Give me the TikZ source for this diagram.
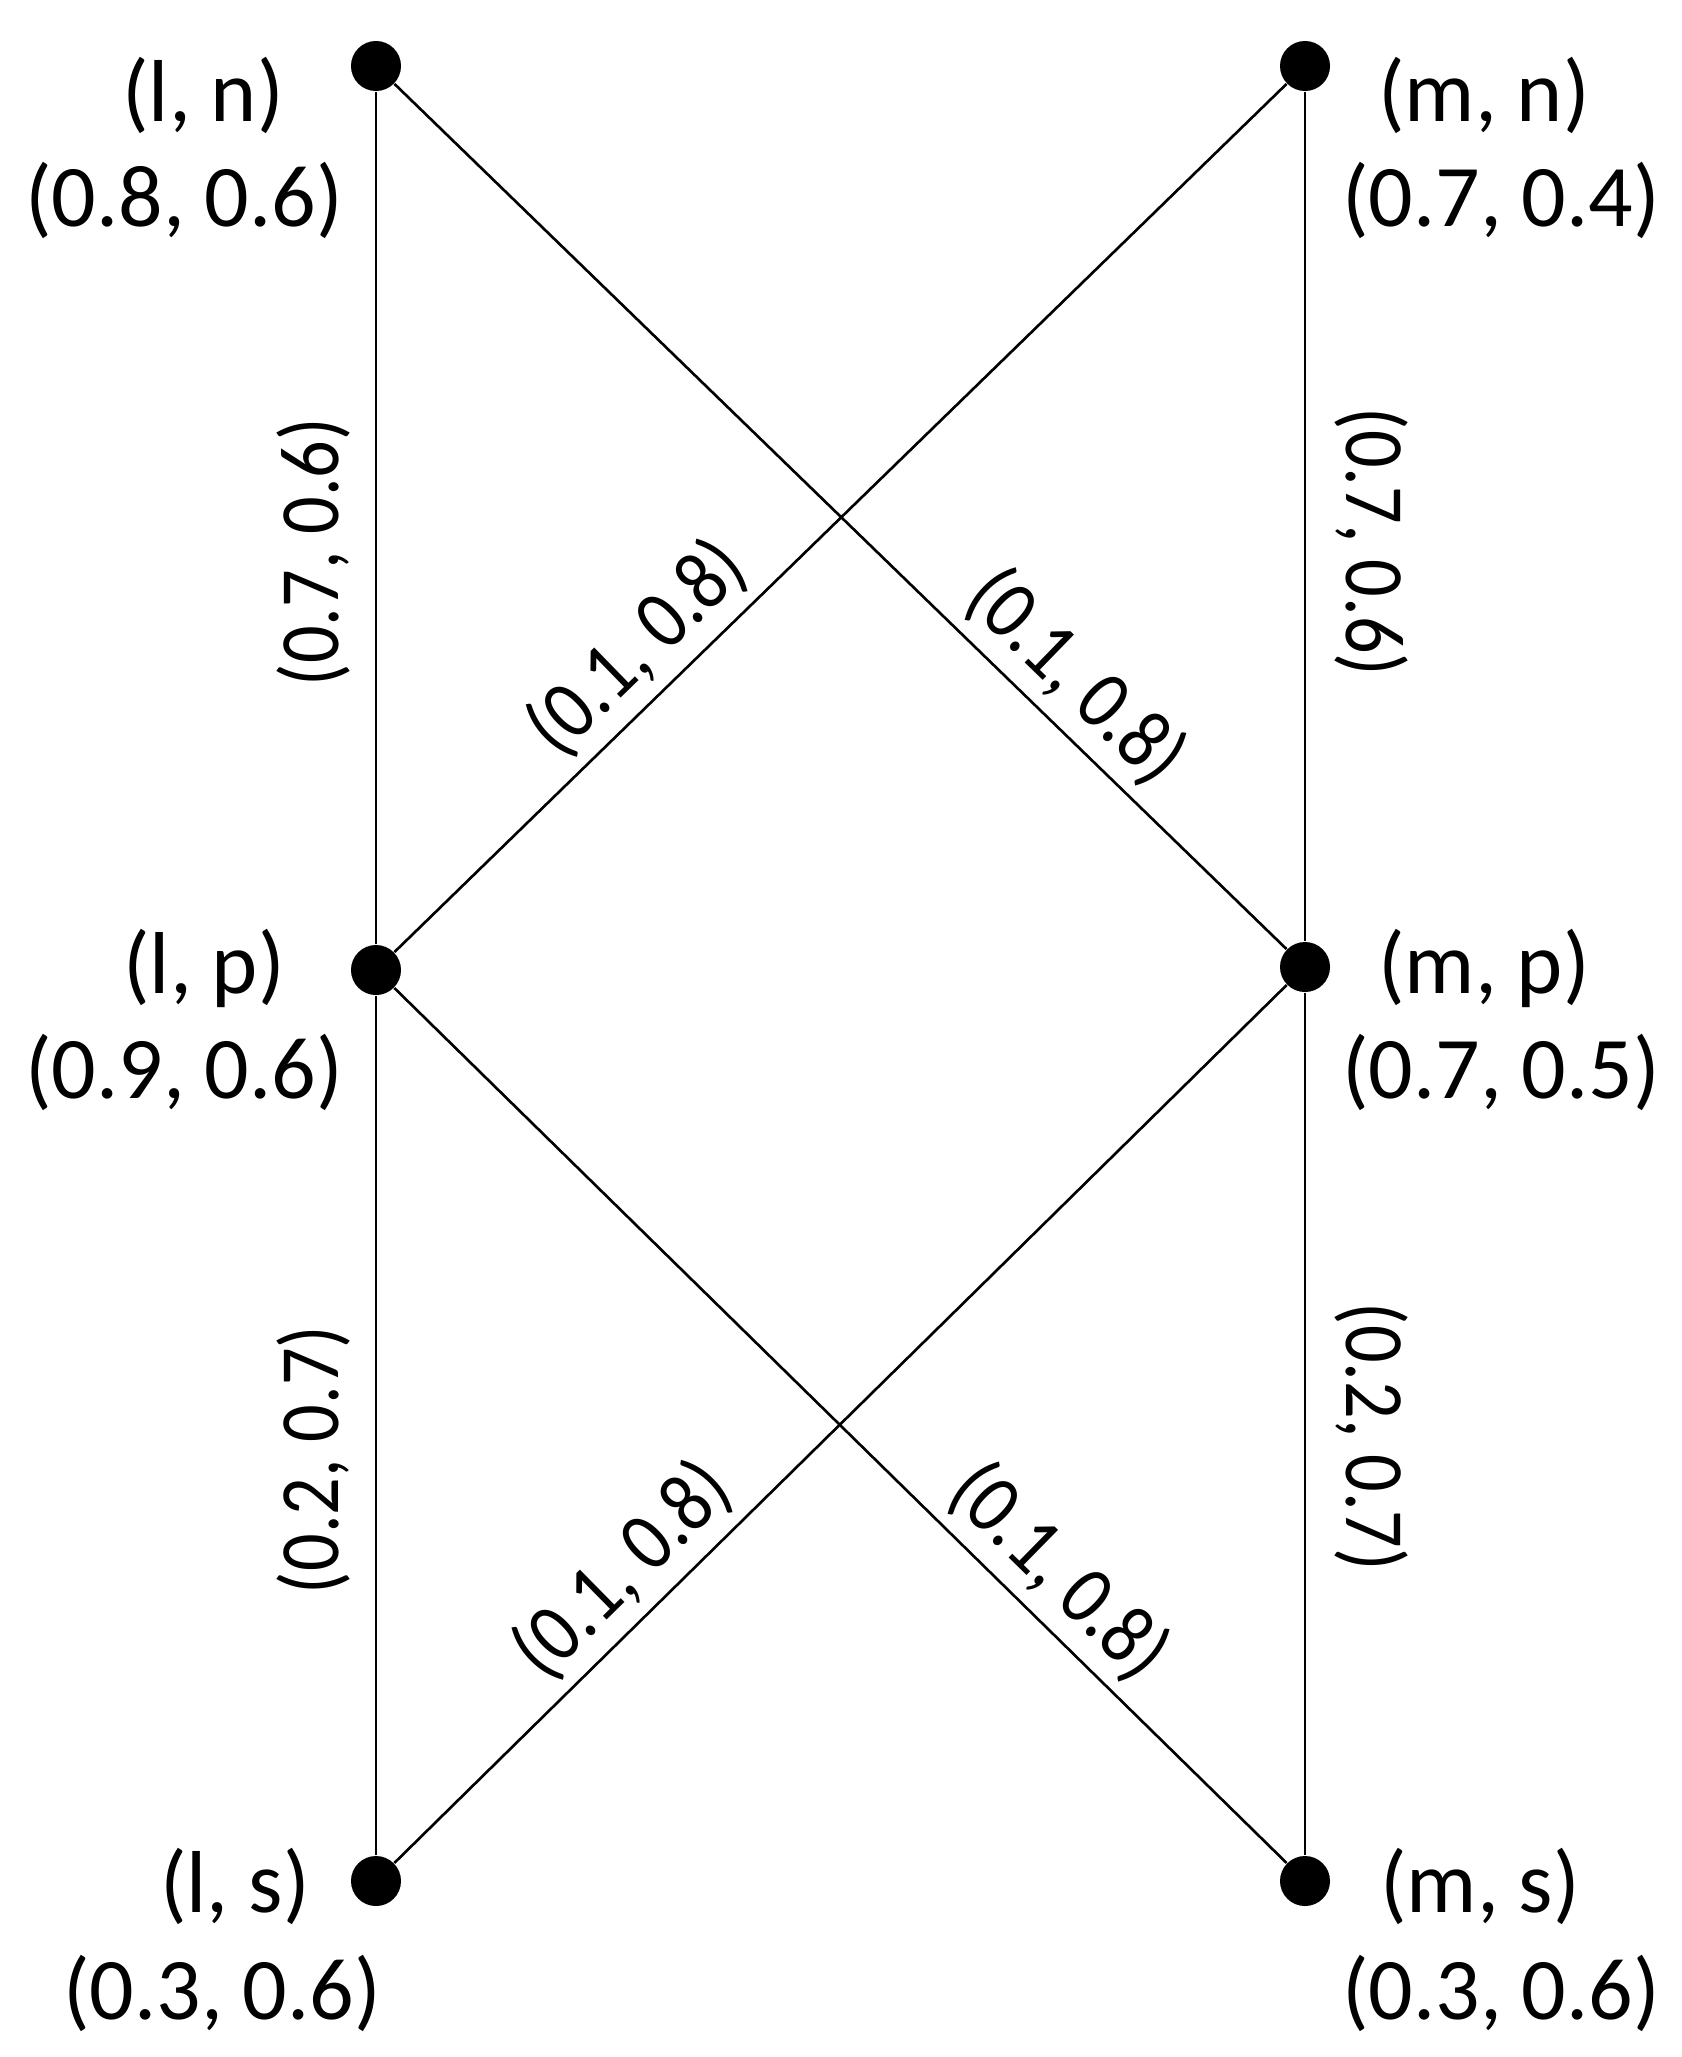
\documentclass[tikz,border=0pt]{standalone}
\usepackage{fontspec}
\setmainfont{Carlito}
\newfontfamily\wtfamily[FakeStretch=0.88]{Carlito}
\usetikzlibrary{positioning}

\begin{document}
\begin{tikzpicture}[x=0.01cm, y=-0.01cm,
        vtx/.style={circle, fill=black, inner sep=0pt, minimum size=0.5cm},
        lbl/.style={inner sep=0pt, font=\fontsize{25}{29}\selectfont},
        wt/.style={inner sep=0pt, sloped, font=\wtfamily\fontsize{24}{28}\selectfont},
        edge/.style={line width=0.75pt}]
        \useasboundingbox (0,0) rectangle (1682,2057);

        \node[vtx] (ln) at (376,66) {};
        \node[vtx] (mn) at (1305,66) {};
        \node[vtx] (lp) at (376,970) {};
        \node[vtx] (mp) at (1305,967) {};
        \node[vtx] (ls) at (376,1881) {};
        \node[vtx] (ms) at (1305,1881) {};

        \node[lbl] (ln-name) at (203,95) {(l, n)};
        \node[lbl] (ln-val) at (184,200) {(0.8, 0.6)};
        \node[lbl] (mn-name) at (1484,95) {(m, n)};
        \node[lbl] (mn-val) at (1501,200) {(0.7, 0.4)};
        \node[lbl] (lp-name) at (204,968) {(l, p)};
        \node[lbl] (lp-val) at (184,1072) {(0.9, 0.6)};
        \node[lbl] (mp-name) at (1484,968) {(m, p)};
        \node[lbl] (mp-val) at (1501,1072) {(0.7, 0.5)};
        \node[lbl] (ls-name) at (235,1886) {(l, s)};
        \node[lbl] (ls-val) at (222,1993) {(0.3, 0.6)};
        \node[lbl] (ms-name) at (1480,1886) {(m, s)};
        \node[lbl] (ms-val) at (1501,1993) {(0.3, 0.6)};

        % upper block
        \draw[edge] (lp) -- node[wt, pos=0.46, above=7pt] {(0.7, 0.6)} (ln);
        \draw[edge] (mn) -- node[wt, pos=0.53, above=8pt] {(0.7, 0.6)} (mp);
        \draw[edge] (lp) -- node[wt, pos=0.31, above=3pt] {(0.1, 0.8)} (mn);
        \draw[edge] (ln) -- node[wt, pos=0.726, above=3pt] {(0.1, 0.8)} (mp);

        % lower block
        \draw[edge] (ls) -- node[wt, pos=0.46, above=7pt] {(0.2, 0.7)} (lp);
        \draw[edge] (mp) -- node[wt, pos=0.515, above=8pt] {(0.2, 0.7)} (ms);
        \draw[edge] (ls) -- node[wt, pos=0.294, above=3pt] {(0.1, 0.8)} (mp);
        \draw[edge] (lp) -- node[wt, pos=0.707, above=3pt] {(0.1, 0.8)} (ms);
\end{tikzpicture}
\end{document}
